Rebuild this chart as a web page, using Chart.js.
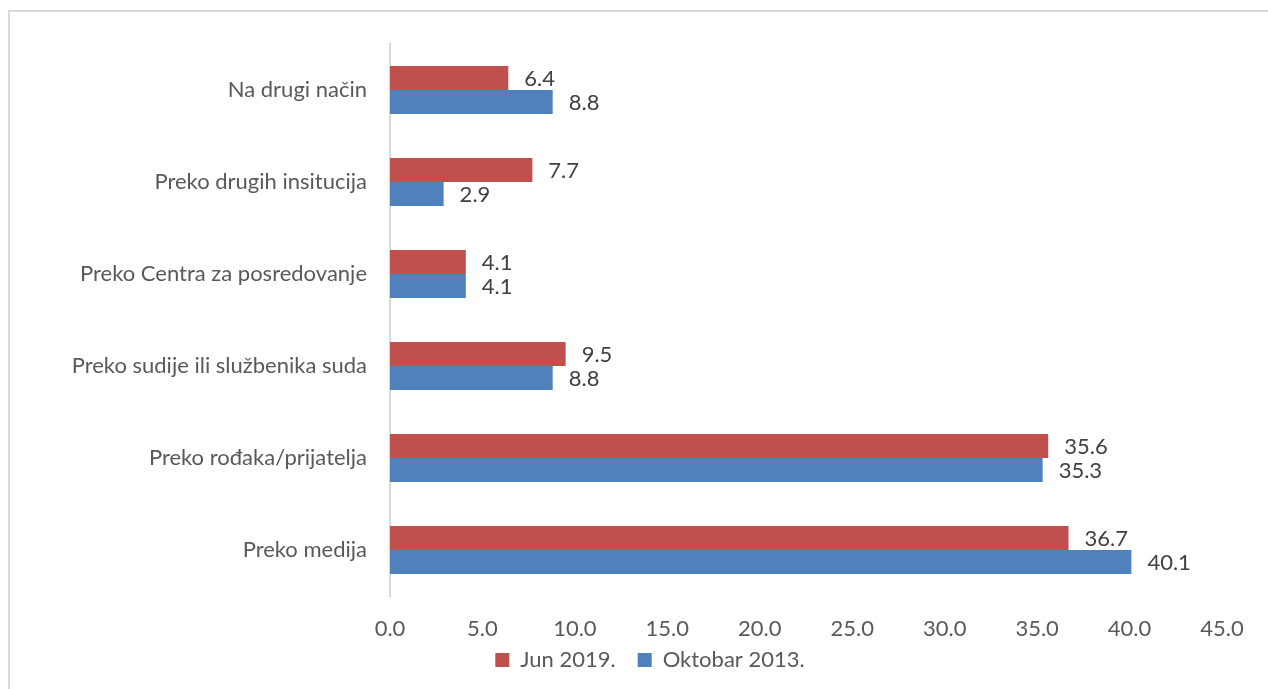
<!DOCTYPE html>
<html>
<head>
<meta charset="utf-8">
<script src="https://cdn.jsdelivr.net/npm/chart.js@4.4.1/dist/chart.umd.min.js"></script>
<style>
  html, body { margin: 0; padding: 0; background: #fff; overflow: hidden; }
  #frame { position: absolute; left: 8px; top: 10px; width: 2000px; height: 2000px; border: 2px solid #d9d9d9; }
  #wrap { position: absolute; left: 0; top: 0; width: 1300px; height: 689px; }
</style>
</head>
<body>
<div id="frame"></div>
<div id="wrap"><canvas id="myChart"></canvas></div>
<script>
const categories = [
  'Na drugi način',
  'Preko drugih insitucija',
  'Preko Centra za posredovanje',
  'Preko sudije ili službenika suda',
  'Preko rođaka/prijatelja',
  'Preko medija'
];
const jun2019 = [6.4, 7.7, 4.1, 9.5, 35.6, 36.7];
const oktobar2013 = [8.8, 2.9, 4.1, 8.8, 35.3, 40.1];
const xTicks = [0, 5, 10, 15, 20, 25, 30, 35, 40, 45];

const FONT = 'Lato';

// value labels at the end of each bar
const valueLabels = {
  id: 'valueLabels',
  afterDatasetsDraw(chart) {
    const c = chart.ctx;
    c.save();
    c.font = '22px ' + FONT;
    c.fillStyle = '#404040';
    c.textAlign = 'left';
    c.textBaseline = 'middle';
    chart.data.datasets.forEach((ds, i) => {
      chart.getDatasetMeta(i).data.forEach((bar, j) => {
        c.fillText(ds.data[j].toFixed(1), bar.x + 16, bar.y + 1);
      });
    });
    c.restore();
  }
};

// pull the legend up a little, closer to the axis labels
const legendNudge = {
  id: 'legendNudge',
  afterLayout(chart) {
    if (chart.legend) {
      chart.legend.top -= 19;
      chart.legend.bottom -= 19;
    }
  }
};

const ctx = document.getElementById('myChart');
new Chart(ctx, {
  type: 'bar',
  data: {
    labels: categories,
    datasets: [
      {
        label: 'Jun 2019.',
        data: jun2019,
        backgroundColor: '#C0504D',
        barPercentage: 1,
        categoryPercentage: 0.52
      },
      {
        label: 'Oktobar 2013.',
        data: oktobar2013,
        backgroundColor: '#4F81BD',
        barPercentage: 1,
        categoryPercentage: 0.52
      }
    ]
  },
  options: {
    indexAxis: 'y',
    responsive: true,
    maintainAspectRatio: false,
    animation: false,
    layout: { padding: { top: 44, right: 0, bottom: 0, left: 0 } },
    scales: {
      x: {
        min: 0,
        max: 45,
        afterBuildTicks(scale) { scale.ticks = xTicks.map(v => ({ value: v })); },
        afterFit(scale) {
          scale.height = 50;
          scale.paddingRight = 78;
        },
        grid: { display: false, drawTicks: false },
        border: { display: false },
        ticks: {
          padding: 20,
          color: '#595959',
          font: { family: FONT, size: 22 },
          callback: v => Number(v).toFixed(1)
        }
      },
      y: {
        afterFit(scale) { scale.width = 390; },
        grid: { display: false, drawTicks: false },
        border: { display: true, color: '#d9d9d9', width: 2 },
        ticks: {
          padding: 23,
          color: '#595959',
          font: { family: FONT, size: 22 }
        }
      }
    },
    plugins: {
      legend: {
        position: 'bottom',
        maxHeight: 43,
        labels: {
          boxWidth: 14,
          boxHeight: 14,
          padding: 22,
          color: '#595959',
          font: { family: FONT, size: 22 }
        }
      },
      tooltip: { enabled: false }
    }
  },
  plugins: [valueLabels, legendNudge]
});
</script>
</body>
</html>
